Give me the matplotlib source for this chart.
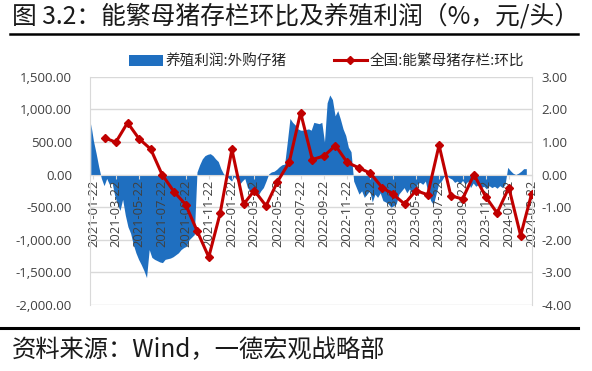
import matplotlib
matplotlib.use("Agg")
import matplotlib.pyplot as plt
import matplotlib.dates as mdates
from matplotlib.patches import Patch
from matplotlib.lines import Line2D
from matplotlib.ticker import FuncFormatter, FixedLocator
import pandas as pd

plt.rcParams['font.family'] = ['Noto Sans CJK SC', 'DejaVu Sans']

# ---------------- data ----------------
title = "图 3.2：能繁母猪存栏环比及养殖利润（%，元/头）"
source = "资料来源：Wind，一德宏观战略部"
area_label = "养殖利润:外购仔猪"
line_label = "全国:能繁母猪存栏:环比"

# weekly profit (元/头), Fridays from 2021-01-15
profit_start = "2021-01-15"
profit = [
    780, 520, 330, 120, -60, -170, -60, -150, -120, -320,
    -450, -550, -380, -620, -800, -900, -1070, -1200, -1300, -1380,
    -1470, -1580, -1150, -1270, -1300, -1320, -1340, -1350, -1300, -1290,
    -1280, -1260, -1230, -1200, -1150, -1120, -1100, -1000, -960, -920,
    40, 150, 240, 290, 310, 320, 290, 240, 200, 90,
    10, -20, -60, -100, -30, -80, -150, -100, -60, -200,
    -250, -300, -280, -320, -250, -200, -100, 10, 40, 50,
    80, 120, 150, 160, 500, 860, 800, 760, 700, 680,
    680, 690, 700, 680, 800, 790, 780, 800, 500, 1100,
    1220, 1150, 900, 980, 850, 700, 600, 420, 350, -100,
    -200, -300, -250, -350, -300, -250, -420, -300, -350, -280,
    -400, -420, -450, -500, -480, -450, -300, -250, -200, -280,
    -220, -300, -250, -140, -120, -150, -100, -280, -400, -460,
    -300, -140, -100, -30, -20, -50, -70, -120, -100, -140,
    -90, -150, -100, -200, -130, -180, -150, -200, -180, -220,
    -170, -200, -180, -210, -170, -200, -150, 110, 60, 20,
    0, 20, 50, 90, 90,
]

# monthly sow inventory change (%), 22nd of each month from 2021-01
sow_start = "2021-01-22"
sow_mom = [
    1.12, 0.99, 1.59, 1.10, 0.78, 0.00, -0.52, -0.92, -1.72, -2.53, -1.19, 0.77,
    -0.91, -0.49, -0.96, -0.22, 0.37, 1.90, 0.46, 0.57, 0.89, 0.37, 0.21, 0.04,
    -0.40, -0.60, -0.90, -0.49, -0.62, 0.90, -0.65, -0.75, 0.00, -0.68, -1.18, -0.40,
    -1.87, -0.59,
]

left_ticks = [1500, 1000, 500, 0, -500, -1000, -1500, -2000]
right_ticks = [3, 2, 1, 0, -1, -2, -3, -4]

# ---------------- derived ----------------
profit_dates = pd.date_range(profit_start, periods=len(profit), freq="7D")
sow_dates = pd.date_range(sow_start, periods=len(sow_mom), freq="MS") + pd.Timedelta(days=21)
tick_dates = pd.date_range("2021-01-01", "2024-03-01", freq="2MS") + pd.Timedelta(days=21)
tick_labels = [d.strftime("%Y-%m-%d") for d in tick_dates]

blue = "#1F6FC0"
red = "#C00000"
grid_c = "#D9D9D9"
txt_c = "#404040"

fig = plt.figure(figsize=(5.92, 3.71), dpi=100)
ax = fig.add_axes([90/592, 1-305/371, (532-90)/592, (305-76.7)/371])
ax2 = ax.twinx()

# gridlines
for v in left_ticks:
    ax.axhline(v, color=grid_c, lw=1, zorder=0)

ax.fill_between(profit_dates, 0, profit, color=blue, lw=0, zorder=1)
ax2.plot(sow_dates, sow_mom, color=red, lw=2.2, marker="D", ms=4, zorder=3)

ax.set_ylim(-2000, 1500)
ax2.set_ylim(-4, 3)
ax.set_xlim(pd.Timestamp("2021-01-13"), pd.Timestamp("2024-03-23"))

ax.yaxis.set_major_locator(FixedLocator(left_ticks))
ax.yaxis.set_major_formatter(FuncFormatter(lambda v, p: f"{v:,.2f}"))
ax2.yaxis.set_major_locator(FixedLocator(right_ticks))
ax2.yaxis.set_major_formatter(FuncFormatter(lambda v, p: f"{v:.2f}"))

ax.xaxis.set_major_locator(FixedLocator(list(mdates.date2num(tick_dates))))
ax.xaxis.set_major_formatter(FuncFormatter(lambda v, p: mdates.num2date(v).strftime("%Y-%m-%d")))
ax.tick_params(axis="x", length=3, color=grid_c, pad=1, labelrotation=90,
               labelsize=9.3, labelcolor=txt_c, labelfontfamily="Open Sans")
ax.tick_params(axis="y", length=0, pad=13, labelsize=9.5, labelcolor=txt_c,
               labelfontfamily="Open Sans")
ax2.tick_params(axis="y", length=0, pad=7, labelsize=9.5, labelcolor=txt_c,
                labelfontfamily="Open Sans")

ax.spines["bottom"].set_position(("data", 0))
ax.spines["bottom"].set_color(grid_c)
ax.spines["top"].set_visible(False)
ax.spines["left"].set_color(grid_c)
ax.spines["right"].set_visible(False)
for s in ["top", "bottom", "left"]:
    ax2.spines[s].set_visible(False)
ax2.spines["right"].set_color(grid_c)
ax.patch.set_visible(False)

# legend
handles = [Patch(facecolor=blue, edgecolor="none"),
           Line2D([], [], color=red, lw=2.2, marker="D", ms=4)]
fig.legend(handles, [area_label, line_label], loc="center",
           bbox_to_anchor=(327/592, 1-61/371), ncol=2, frameon=False,
           prop={"family": ["Noto Sans CJK SC", "DejaVu Sans"], "size": 10.5},
           handlelength=2.3, handleheight=0.8, handletextpad=0.2, columnspacing=3.2,
           labelcolor="#262626")

# title, source, rules
fig.text(12/592, 1-17/371, title, fontsize=17.8, color="#1a1a1a", va="center", ha="left")
fig.add_artist(Line2D([10/592, 578/592], [1-34/371, 1-34/371], color="black", lw=1.8))
fig.add_artist(Line2D([0, 578/592], [1-328/371, 1-328/371], color="black", lw=2.2))
fig.text(12/592, 1-350/371, source, fontsize=17.5, color="#1a1a1a", va="center", ha="left")

fig.savefig("out.png", dpi=100)
